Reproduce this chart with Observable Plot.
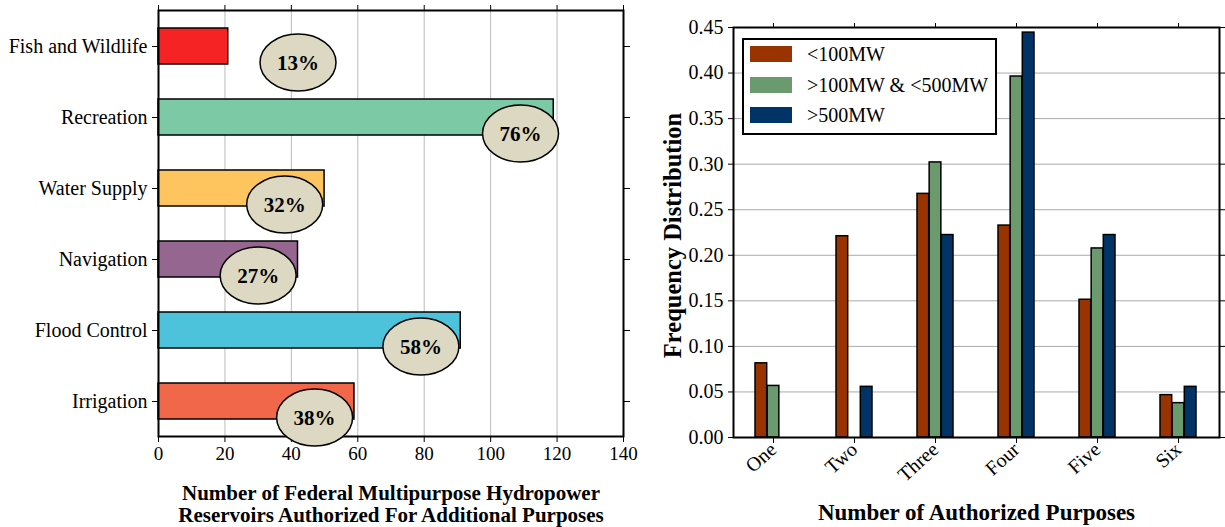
<!DOCTYPE html>
<html>
<head>
<meta charset="utf-8">
<script src="https://cdn.jsdelivr.net/npm/d3@7"></script>
<script src="https://cdn.jsdelivr.net/npm/@observablehq/plot@0.6"></script>
<style>
  html, body { margin: 0; padding: 0; background: #fff; }
  body { font-family: "Liberation Serif", "Times New Roman", serif; }
  #wrap { display: flex; width: 1225px; height: 527px; overflow: hidden; }
  #left { width: 640px; height: 527px; position: relative; }
  #right { width: 585px; height: 527px; position: relative; }
  svg { display: block; }
  .legend { position: absolute; left: 102px; top: 38px; width: 255px; height: 97px;
            box-sizing: border-box; border: 2px solid #000; background: #fff; }
  .legend .row { position: absolute; left: 6px; height: 16px; display: flex; align-items: center; }
  .legend .sw { width: 42px; height: 16px; }
  .legend .lab { margin-left: 15px; font-size: 20px; color: #000; white-space: nowrap; line-height: 16px; }
</style>
</head>
<body>
<div id="wrap"><div id="left"></div><div id="right"></div></div>
<script>
// ---------- Left chart data ----------
const purposes = ["Fish and Wildlife", "Recreation", "Water Supply", "Navigation", "Flood Control", "Irrigation"];
const reservoirCounts = [21, 119, 50, 42, 91, 59];
const sharePct = ["13%", "76%", "32%", "27%", "58%", "38%"];
const shareLabelX = [42, 109, 38, 30, 79, 47];
const purposeColors = ["#F52323", "#7CC9A6", "#FEC45E", "#956790", "#4CC3DA", "#F06849"];
const leftTicks = [0, 20, 40, 60, 80, 100, 120, 140];
const leftTitle = "Number of Federal Multipurpose Hydropower\nReservoirs Authorized For Additional Purposes";

// ---------- Right chart data ----------
const numPurposes = ["One", "Two", "Three", "Four", "Five", "Six"];
const sizeClasses = ["<100MW", ">100MW & <500MW", ">500MW"];
const freqSmall  = [0.0814, 0.2209, 0.2674, 0.2326, 0.1512, 0.0465];
const freqMedium = [0.0566, 0.0, 0.3019, 0.3962, 0.2075, 0.0377];
const freqLarge  = [0.0, 0.0556, 0.2222, 0.4444, 0.2222, 0.0556];
const classColors = ["#993300", "#6B9A6F", "#003366"];
const rightTicks = [0, 0.05, 0.10, 0.15, 0.20, 0.25, 0.30, 0.35, 0.40, 0.45];
const rightXTitle = "Number of Authorized Purposes";
const rightYTitle = "Frequency Distribution";

const SERIF = "Liberation Serif, Times New Roman, serif";

// ---------- Left chart ----------
const leftData = purposes.map((p, i) => ({
  purpose: p, count: reservoirCounts[i], pct: sharePct[i], lx: shareLabelX[i], color: purposeColors[i]
}));

const ellipseSymbol = {
  draw(ctx, size) {
    const rx = Math.sqrt(size / Math.PI), ry = rx * 0.75, k = 0.5523;
    ctx.moveTo(rx, 0);
    ctx.bezierCurveTo(rx, ry * k, rx * k, ry, 0, ry);
    ctx.bezierCurveTo(-rx * k, ry, -rx, ry * k, -rx, 0);
    ctx.bezierCurveTo(-rx, -ry * k, -rx * k, -ry, 0, -ry);
    ctx.bezierCurveTo(rx * k, -ry, rx, -ry * k, rx, 0);
    ctx.closePath();
  }
};

const left = Plot.plot({
  width: 640, height: 527,
  marginLeft: 158, marginRight: 17, marginTop: 10, marginBottom: 91,
  style: { fontFamily: SERIF, fontSize: "20px", color: "#000", background: "#fff", overflow: "visible" },
  color: { type: "identity" },
  x: { domain: [0, 140], ticks: leftTicks },
  y: { domain: purposes, paddingInner: 0.5, paddingOuter: 0.25 },
  marks: [
    Plot.gridX(leftTicks.slice(1, -1), { stroke: "#bbbbbb", strokeOpacity: 1, strokeWidth: 1 }),
    Plot.barX(leftData, { y: "purpose", x: "count", fill: "color", stroke: "#000", strokeWidth: 1.5 }),
    Plot.axisX({ anchor: "bottom", ticks: leftTicks, tickSize: 6, tickPadding: 4, label: null, fontSize: 19, fontFamily: SERIF }),
    Plot.axisX({ anchor: "top", ticks: leftTicks, tickSize: 6, tickFormat: () => "", label: null }),
    Plot.axisY({ anchor: "left", tickSize: 6, tickPadding: 5, label: null, fontSize: 20, fontFamily: SERIF }),
    Plot.axisY({ anchor: "right", tickSize: 6, tickFormat: () => "", label: null }),
    Plot.frame({ stroke: "#000", strokeWidth: 2 }),
    Plot.dot(leftData, { x: "lx", y: "purpose", dy: 16, r: 38, symbol: ellipseSymbol, fill: "#DCD8C1", stroke: "#000", strokeWidth: 1.5 }),
    Plot.text(leftData, { x: "lx", y: "purpose", dy: 17, text: "pct", fontWeight: "bold", fontSize: 21, fontFamily: SERIF, fill: "#000" }),
    Plot.text([leftTitle], { frameAnchor: "bottom", textAnchor: "middle", lineAnchor: "top", dy: 47, text: d => d, fontWeight: "bold", fontSize: 21, lineHeight: 1.08, fontFamily: SERIF, fill: "#000" })
  ]
});
document.getElementById("left").appendChild(left);

// ---------- Right chart ----------
const series = [freqSmall, freqMedium, freqLarge];
const rightData = [];
numPurposes.forEach((n, i) => {
  series.forEach((arr, j) => {
    rightData.push({ n, cls: sizeClasses[j], j, v: arr[i], color: classColors[j] });
  });
});

const W2 = 585, mL2 = 93, mR2 = 6;
const stepX = (W2 - mL2 - mR2) / numPurposes.length;
const bandW = stepX * 0.45, third = bandW / 3;

const right = Plot.plot({
  width: W2, height: 527,
  marginLeft: mL2, marginRight: mR2, marginTop: 27, marginBottom: 90,
  style: { fontFamily: SERIF, fontSize: "20px", color: "#000", background: "#fff", overflow: "visible" },
  color: { type: "identity" },
  x: { domain: numPurposes, paddingInner: 0.55, paddingOuter: 0.275 },
  y: { domain: [0, 0.45], ticks: rightTicks },
  marks: [
    Plot.gridY(rightTicks.slice(1, -1), { stroke: "#aaaaaa", strokeOpacity: 1, strokeWidth: 1 }),
    ...series.map((arr, j) => Plot.barY(rightData.filter(d => d.j === j && d.v > 0), {
      x: "n", y: "v", fill: "color", stroke: "#000", strokeWidth: 1.5,
      insetLeft: j * third, insetRight: (2 - j) * third
    })),
    Plot.axisY({ anchor: "left", ticks: rightTicks, tickFormat: d3.format(".2f"), tickSize: 5, tickPadding: 5, label: null, fontSize: 20, fontFamily: SERIF }),
    Plot.axisY({ anchor: "right", ticks: rightTicks, tickSize: 5, tickFormat: () => "", label: null }),
    Plot.axisX({ anchor: "bottom", tickSize: 6, tickPadding: 3, tickRotate: -42, label: null, fontSize: 20, fontFamily: SERIF }),
    Plot.axisX({ anchor: "top", tickSize: 5, tickFormat: () => "", label: null }),
    Plot.frame({ stroke: "#000", strokeWidth: 2 }),
    Plot.text([rightXTitle], { frameAnchor: "bottom", textAnchor: "middle", lineAnchor: "top", dy: 66, text: d => d, fontWeight: "bold", fontSize: 23, fontFamily: SERIF, fill: "#000" }),
    Plot.text([rightYTitle], { frameAnchor: "left", textAnchor: "middle", rotate: -90, lineAnchor: "middle", dx: -60, dy: 3, text: d => d, fontWeight: "bold", fontSize: 24.5, fontFamily: SERIF, fill: "#000" })
  ]
});
document.getElementById("right").appendChild(right);

// ---------- Legend (HTML overlay inside right chart) ----------
const legend = document.createElement("div");
legend.className = "legend";
const rowTops = [6, 37, 67];
sizeClasses.forEach((c, j) => {
  const row = document.createElement("div");
  row.className = "row";
  row.style.top = rowTops[j] + "px";
  const sw = document.createElement("div");
  sw.className = "sw";
  sw.style.background = classColors[j];
  const lab = document.createElement("span");
  lab.className = "lab";
  lab.textContent = c;
  row.appendChild(sw);
  row.appendChild(lab);
  legend.appendChild(row);
});
document.getElementById("right").appendChild(legend);
</script>
</body>
</html>
